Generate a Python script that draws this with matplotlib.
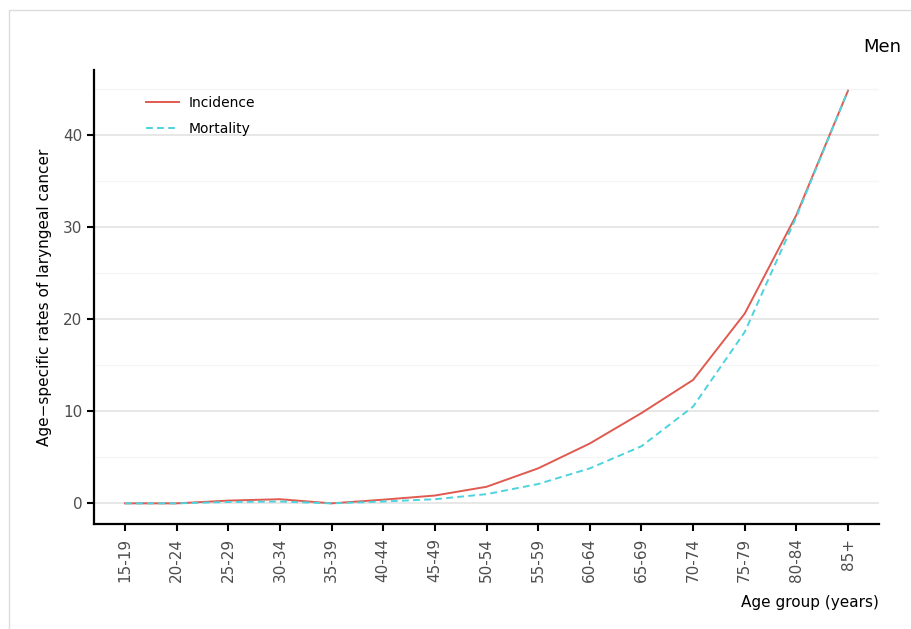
import matplotlib
matplotlib.use("Agg")
from matplotlib import pyplot as plt
from matplotlib.patches import Rectangle
from matplotlib.ticker import MultipleLocator

age_groups = ["15-19", "20-24", "25-29", "30-34", "35-39", "40-44", "45-49",
              "50-54", "55-59", "60-64", "65-69", "70-74", "75-79", "80-84", "85+"]
incidence = [0.0, 0.0, 0.3, 0.45, 0.0, 0.4, 0.85, 1.8, 3.8, 6.5, 9.8, 13.4, 20.6, 31.3, 44.8]
mortality = [0.0, 0.0, 0.15, 0.2, 0.0, 0.2, 0.45, 1.0, 2.1, 3.8, 6.2, 10.5, 18.6, 31.1, 44.8]

fig = plt.figure(figsize=(9.12, 6.29), dpi=100)
ax = fig.add_axes([94 / 912, 1 - 524 / 629, (879 - 94) / 912, (524 - 70) / 629])

# frame around the panel, partly cut off like the source
fig.patches.append(Rectangle((9 / 912, -0.1), 1.0, 1 - 10 / 629 + 0.1,
                             transform=fig.transFigure, fill=False,
                             edgecolor="#dcdcdc", linewidth=1.0))
# title of the page sits above the picture; only its descenders show
fig.text(0.5, 1 + 4 / 629, "Age-specific incidence and mortality rates (per 100,000 population)",
         ha="center", va="baseline", family="DejaVu Serif", fontsize=13, color="#222222")

x = list(range(len(age_groups)))
ax.plot(x, incidence, color="#E05A50", linewidth=1.4, label="Incidence")
ax.plot(x, mortality, color="#4DD3DE", linewidth=1.4, linestyle=(0, (3.5, 2.2)), label="Mortality")

ax.set_xlim(-0.6, len(age_groups) - 1 + 0.6)
ax.set_ylim(-2.24, 47.04)
ax.set_xticks(x)
ax.set_xticklabels(age_groups, rotation=90)
ax.yaxis.set_major_locator(MultipleLocator(10))
ax.yaxis.set_minor_locator(MultipleLocator(5))
ax.grid(axis="y", which="major", color="#e3e3e3", linewidth=1.2)
ax.grid(axis="y", which="minor", color="#f5f5f5", linewidth=1.0)
ax.set_axisbelow(True)
ax.tick_params(axis="both", which="major", length=5, width=1.5, colors="black",
               labelcolor="#4d4d4d", labelsize=11)
ax.tick_params(axis="x", which="major", pad=5)
ax.tick_params(axis="y", which="minor", length=0)
for side in ["top", "right"]:
    ax.spines[side].set_visible(False)
for side in ["left", "bottom"]:
    ax.spines[side].set_linewidth(1.6)

ax.set_ylabel("Age\u2212specific rates of laryngeal cancer", fontsize=11, labelpad=8)
ax.set_xlabel("Age group (years)", fontsize=11, loc="right", labelpad=9)
ax.text(1.028, 1.03, "Men", transform=ax.transAxes, ha="right", va="bottom", fontsize=13)

ax.legend(loc="upper left", bbox_to_anchor=(0.05, 0.97), frameon=False, fontsize=10,
          handlelength=2.4, handletextpad=0.7, labelspacing=0.85)

fig.savefig("out.png", dpi=100)
